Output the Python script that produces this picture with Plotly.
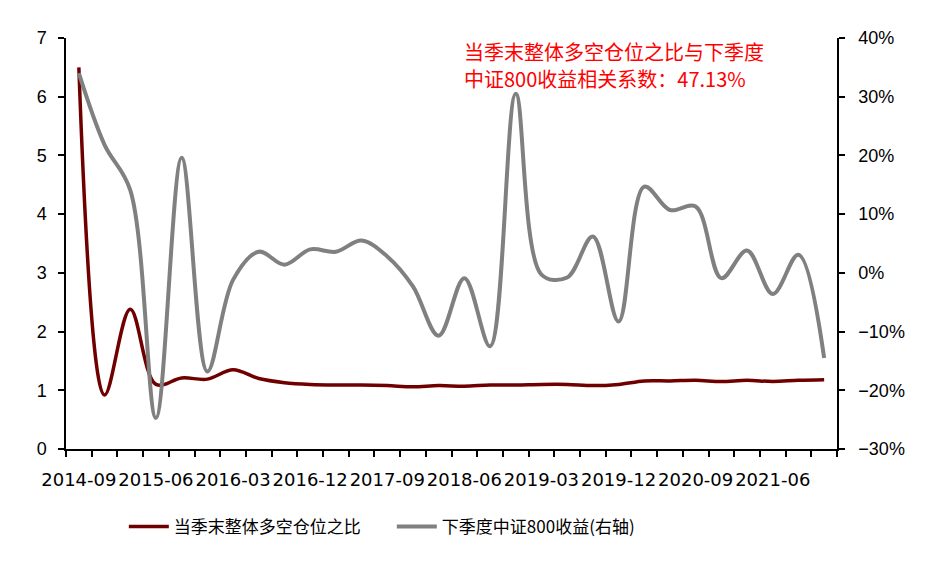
import plotly.graph_objects as go

# quarter-end dates, 2014-09 .. 2021-12
quarters = ['2014-09', '2014-12',
            '2015-03', '2015-06', '2015-09', '2015-12',
            '2016-03', '2016-06', '2016-09', '2016-12',
            '2017-03', '2017-06', '2017-09', '2017-12',
            '2018-03', '2018-06', '2018-09', '2018-12',
            '2019-03', '2019-06', '2019-09', '2019-12',
            '2020-03', '2020-06', '2020-09', '2020-12',
            '2021-03', '2021-06', '2021-09', '2021-12']

# long/short position ratio at quarter end (left axis)
ratio = [6.5, 0.92, 2.38, 1.1, 1.21, 1.19, 1.35, 1.2, 1.13, 1.1,
         1.09, 1.09, 1.08, 1.06, 1.08, 1.07, 1.09, 1.09, 1.1, 1.1,
         1.08, 1.1, 1.16, 1.16, 1.17, 1.15, 1.17, 1.15, 1.17, 1.18]

# CSI 800 return over the next quarter, % (right axis)
ret_next = [34.0, 21.8, 14.1, -24.7, 19.6, -16.8, -1.2, 3.6, 1.4, 4.0,
            3.6, 5.5, 2.8, -2.3, -10.7, -0.9, -12.5, 30.5, -0.3, -0.8,
            6.2, -8.3, 14.7, 10.7, 11.3, -0.9, 3.8, -3.6, 3.1, -14.5]

note_lines = ['当季末整体多空仓位之比与下季度', '中证800收益相关系数：47.13%']

x = list(range(len(quarters)))
label_idx = x[::3]

red = 'rgb(112,0,0)'
gray = 'rgb(128,128,128)'

fig = go.Figure()

fig.add_trace(go.Scatter(
    x=x, y=ratio, name='当季末整体多空仓位之比',
    mode='lines', line=dict(color=red, width=3.5, shape='spline', smoothing=1.0)
))
fig.add_trace(go.Scatter(
    x=x, y=[v / 100 for v in ret_next], name='下季度中证800收益(右轴)',
    mode='lines', yaxis='y2',
    line=dict(color=gray, width=4, shape='spline', smoothing=1.0)
))

# correlation note, one annotation per line
for line_text, ypos in zip(note_lines, [0.966, 0.901]):
    fig.add_annotation(
        text=line_text,
        xref='paper', yref='paper', x=0.514, y=ypos,
        xanchor='left', yanchor='middle', showarrow=False,
        font=dict(family='Noto Sans CJK SC', size=20, color='red')
    )

axis_font = dict(family='Liberation Sans', size=18, color='black')

# the page body adds an 8px offset, margins account for it
fig.update_layout(
    width=938, height=562,
    margin=dict(l=58, r=109, t=30, b=121),
    paper_bgcolor='white', plot_bgcolor='white',
    showlegend=True,
    legend=dict(
        orientation='h', x=0.075, y=-0.146,
        xanchor='left', yanchor='top',
        font=dict(family='Noto Sans CJK SC', size=17, color='black'),
        itemwidth=40, entrywidth=213
    ),
    xaxis=dict(
        range=[-0.5, 29.5],
        tickmode='array', tickvals=label_idx,
        ticktext=[quarters[i] for i in label_idx],
        tickangle=0, ticks='', showgrid=False, zeroline=False,
        showline=True, linecolor='black', linewidth=1.5,
        ticklabelstandoff=14,
        tickfont=dict(family='DejaVu Sans', size=18, color='black'),
        minor=dict(tick0=-0.5, dtick=1, ticks='outside', ticklen=6,
                   tickcolor='black', tickwidth=1.5, showgrid=False)
    ),
    yaxis=dict(
        range=[0, 7], dtick=1, showgrid=False, zeroline=False,
        showline=True, linecolor='black', linewidth=1.5,
        ticks='outside', ticklen=6, tickwidth=1.5, tickcolor='black',
        ticklabelstandoff=8,
        tickfont=axis_font
    ),
    yaxis2=dict(
        range=[-0.3, 0.4], dtick=0.1, tickformat='.0%',
        overlaying='y', side='right', showgrid=False, zeroline=False,
        showline=True, linecolor='black', linewidth=1.5,
        ticks='outside', ticklen=6, tickwidth=1.5, tickcolor='black',
        ticklabelstandoff=10,
        tickfont=axis_font
    )
)

fig.write_html("out.html")
